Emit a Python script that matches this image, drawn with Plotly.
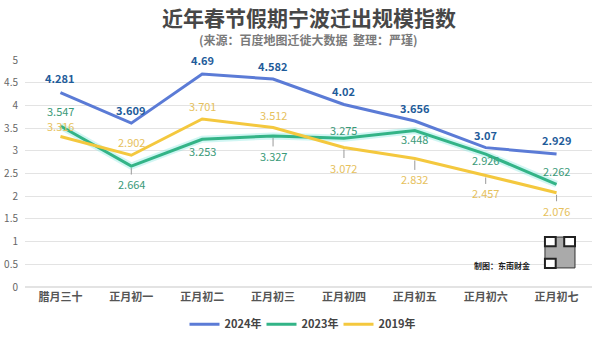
import plotly.graph_objects as go

categories = ["腊月三十", "正月初一", "正月初二", "正月初三", "正月初四", "正月初五", "正月初六", "正月初七"]
series_names = ["2024年", "2023年", "2019年"]
v2024 = [4.281, 3.609, 4.69, 4.582, 4.02, 3.656, 3.07, 2.929]
v2023 = [3.547, 2.664, 3.253, 3.327, 3.275, 3.448, 2.926, 2.262]
v2019 = [3.316, 2.902, 3.701, 3.512, 3.072, 2.832, 2.457, 2.076]

colors = ["#5B7BD6", "#33B487", "#F4C83E"]
label_colors = ["#1F5C9A", "#3A9A78", "#E6C15C"]
# label offsets in pixels (negative = up), and whether to draw leader line
off2024 = [-15, -13, -14, -13, -13, -13, -13, -14]
off2023 = [-15, 18, 12, 20, -8, 9, 6, -13]
off2019 = [-10, -13, -13, -13, 20, 21, 18, 18]
lead2023 = [False, True, False, True, False, False, False, False]
lead2019 = [False, False, False, False, True, True, True, True]

fig = go.Figure()
fig.add_trace(go.Scatter(x=categories, y=v2023, mode="lines", line=dict(color="rgba(120,230,220,0.35)", width=7),
                         showlegend=False, hoverinfo="skip"))
for name, vals, col in zip(series_names, [v2024, v2023, v2019], colors):
    fig.add_trace(go.Scatter(x=categories, y=vals, mode="lines", name=name,
                             line=dict(color=col, width=3)))

def add_labels(vals, offs, leads, col, bold):
    for i, (c, v) in enumerate(zip(categories, vals)):
        txt = (f"<b>{v:g}</b>" if bold else f"{v:g}")
        lead = leads[i] if leads else False
        if lead:
            fig.add_annotation(x=c, y=v, xref="x", yref="y", text=txt, showarrow=True,
                               arrowhead=0, arrowwidth=1, arrowcolor="#999", ax=0, ay=offs[i],
                               standoff=2, font=dict(size=11, color=col))
        else:
            fig.add_annotation(x=c, y=v, xref="x", yref="y", text=txt, showarrow=False,
                               yshift=-offs[i], font=dict(size=11, color=col))

add_labels(v2024, off2024, None, label_colors[0], True)
add_labels(v2023, off2023, lead2023, label_colors[1], False)
add_labels(v2019, off2019, lead2019, label_colors[2], False)

fig.add_annotation(x=0.5, xref="paper", y=1.19, yref="paper", yanchor="middle",
                   text="<b>近年春节假期宁波迁出规模指数</b>",
                   showarrow=False, font=dict(size=21, color="#474747"))
fig.add_annotation(x=0.5, xref="paper", y=1.092, yref="paper", yanchor="middle",
                   text="<b>(来源：百度地图迁徙大数据  整理：严瑾)</b>",
                   showarrow=False, font=dict(size=12, color="#7a7a7a"))
fig.add_annotation(x=0.894, xref="paper", y=0.093, yref="paper", yanchor="middle", text="<b>制图：东南财金</b>",
                   showarrow=False, font=dict(size=8, color="#222"), xanchor="right")

# QR-code placeholder
fig.add_shape(type="rect", xref="paper", yref="paper", x0=0.917, x1=0.970, y0=0.084, y1=0.22,
              line=dict(color="#333", width=1), fillcolor="#aaa")
for (a, b) in [(0.917, 0.18), (0.951, 0.18), (0.917, 0.084)]:
    fig.add_shape(type="rect", xref="paper", yref="paper", x0=a, x1=a + 0.019, y0=b, y1=b + 0.04,
                  line=dict(color="#222", width=2), fillcolor="white")

fig.update_layout(
    width=600, height=338,
    margin=dict(l=25, r=8, t=60, b=51, autoexpand=False),
    paper_bgcolor="white", plot_bgcolor="white",
    font=dict(family="Noto Sans CJK SC", size=11, color="#555"),
    showlegend=True,
    legend=dict(orientation="h", x=0.5, xanchor="center", xref="container",
                y=0.041, yanchor="middle", yref="container",
                font=dict(size=11, color="#444", weight=700), itemwidth=30,
                entrywidth=32, entrywidthmode="pixels"),
    xaxis=dict(type="category", range=[-0.5, 7.5], showgrid=False, showline=False, ticks="",
               tickfont=dict(size=11, color="#555", weight=700), ticklabelstandoff=2),
    yaxis=dict(range=[0, 5], dtick=0.5, showgrid=True, gridcolor="#E3E3E3", gridwidth=1,
               zeroline=True, zerolinecolor="#E3E3E3", ticks="", tickfont=dict(size=10, color="#666"),
               ticklabelstandoff=6),
    hovermode=False,
)
fig.write_html("out.html")
